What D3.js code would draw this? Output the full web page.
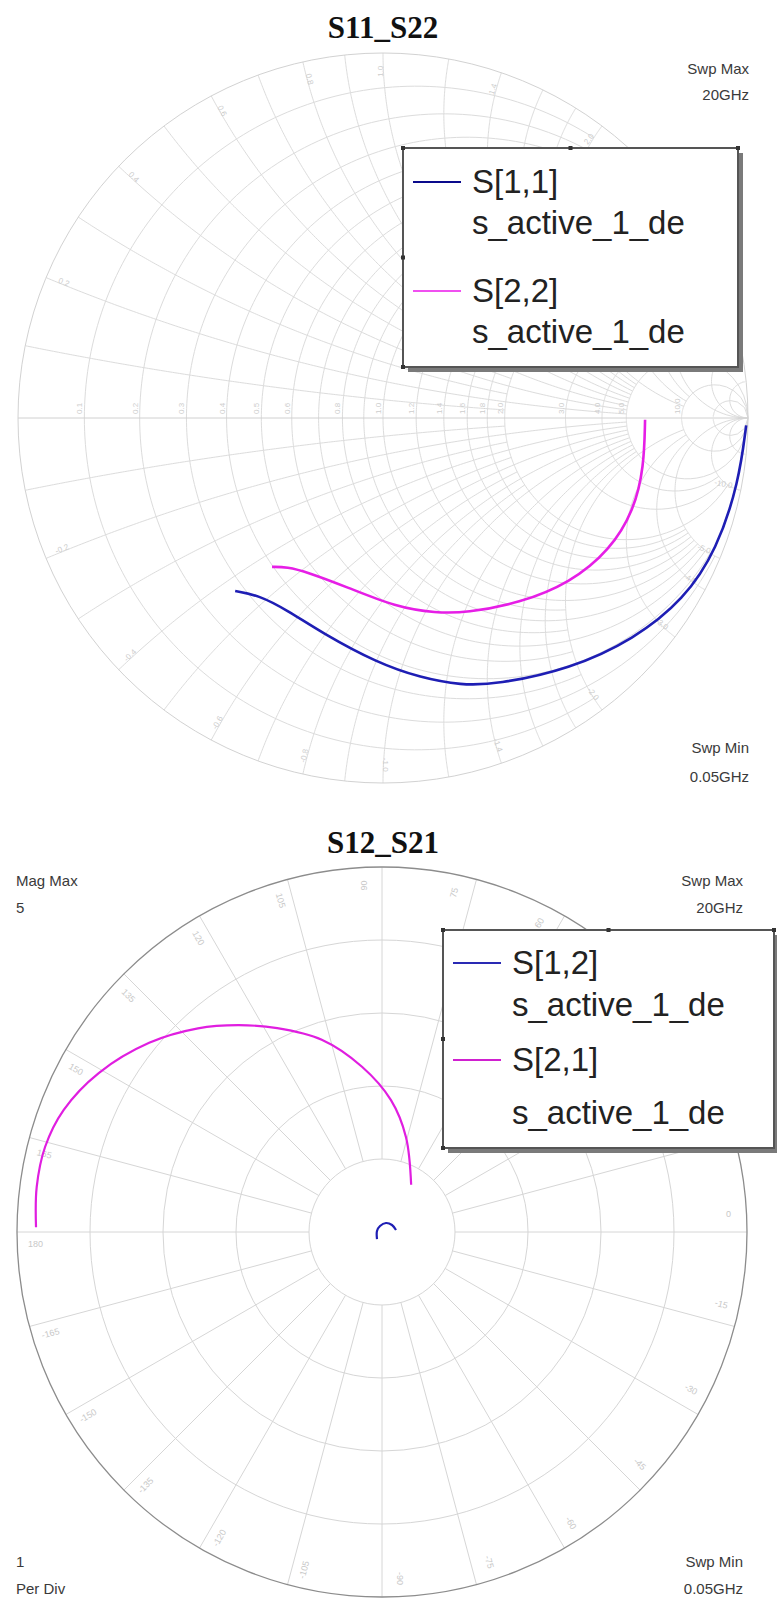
<!DOCTYPE html>
<html>
<head>
<meta charset="utf-8">
<script src="https://cdn.jsdelivr.net/npm/d3@7"></script>
<style>
  body { margin: 0; background: #fff; }
  text { font-family: Arial, "Liberation Sans", sans-serif; }
</style>
</head>
<body>
<div id="chart"></div>
<script>
// data
// S11 / S22 as reflection coefficient (real, imag), low freq first
const s11Re = [0.995, 0.975, 0.915, 0.825, 0.688, 0.512, 0.310, 0.214, 0.104, -0.016, -0.167, -0.263, -0.342, -0.405];
const s11Im = [-0.02, -0.175, -0.360, -0.497, -0.606, -0.688, -0.730, -0.732, -0.712, -0.671, -0.589, -0.526, -0.485, -0.474];
const s22Re = [0.718, 0.715, 0.688, 0.622, 0.512, 0.375, 0.227, 0.145, 0.036, -0.099, -0.208, -0.263, -0.304];
const s22Im = [-0.005, -0.134, -0.252, -0.362, -0.452, -0.507, -0.534, -0.534, -0.518, -0.463, -0.422, -0.408, -0.408];

// S21 / S12 as magnitude and angle (deg)
const s21Mag = [4.74, 4.77, 4.76, 4.67, 4.45, 4.11, 3.76, 3.45, 3.14, 2.76, 2.28, 1.81, 1.34, 0.76];
const s21Ang = [179.2, 172.6, 165.8, 159.0, 150.7, 140.9, 132.1, 124.8, 117.2, 107.4, 96.9, 86.1, 75.8, 58.3];
const s12Mag = [0.118, 0.07, 0.087, 0.135, 0.167, 0.194];
const s12Ang = [-125.5, 168.7, 108.4, 66, 35, 8.1];

// grid values
const rFine = [0.1, 0.3, 0.5, 0.7, 0.9];
const rMid = [0.2, 0.4, 0.6, 0.8, 1.0, 1.2, 1.4, 1.6, 1.8];
const rHigh = [2, 3, 4];
const rTop = [5, 10, 20];
const magTicks = [1, 2, 3, 4, 5];
const angTicks = d3.range(0, 360, 15);

const W = 777, H = 1605;
const svg = d3.select("#chart").append("svg")
    .attr("width", W)
    .attr("height", H);

svg.append("rect").attr("width", W).attr("height", H).attr("fill", "#fff");

// SMITH CHART  S11_S22
//********************************************
const sm = {cx: 383, cy: 418, R: 365};
const gx = d3.scaleLinear().domain([-1, 1]).range([sm.cx - sm.R, sm.cx + sm.R]);
const gy = d3.scaleLinear().domain([-1, 1]).range([sm.cy + sm.R, sm.cy - sm.R]);

function gamma(r, x) {
  const d = (r + 1) * (r + 1) + x * x;
  return [(r * r - 1 + x * x) / d, 2 * x / d];
}

const smithLine = d3.line().x(d => gx(d[0])).y(d => gy(d[1]));
const smith = svg.append("g");

// resistance circles, clipped at |x| <= lim
function rArc(r, lim) {
  const t0 = Math.atan(lim);
  return d3.range(0, 201).map(i => gamma(r, Math.tan(-t0 + 2 * t0 * i / 200)));
}
// reactance arcs, clipped at r <= lim
function xArc(x, lim) {
  const u1 = lim / (1 + lim);
  return d3.range(0, 201).map(i => {
    const u = u1 * i / 200;
    return gamma(u / (1 - u), x);
  });
}

const rSet = [].concat(
  rFine.map(v => [v, 2]), rMid.map(v => [v, 5]),
  rHigh.map(v => [v, 10]), rTop.map(v => [v, 1e5]));
const xSet = [].concat(
  rFine.map(v => [v, 2]), rMid.map(v => [v, 5]),
  rHigh.map(v => [v, 10]), rTop.map(v => [v, 1e5]));

smith.selectAll(".rc")
  .data(rSet)
  .join("path")
    .attr("d", d => smithLine(rArc(d[0], d[1])))
    .attr("fill", "none")
    .attr("stroke", "#dcdcdc")
    .attr("stroke-width", 1);

smith.selectAll(".xc")
  .data(xSet.concat(xSet.map(d => [-d[0], d[1]])))
  .join("path")
    .attr("d", d => smithLine(xArc(d[0], d[1])))
    .attr("fill", "none")
    .attr("stroke", "#dcdcdc")
    .attr("stroke-width", 1);

// outer circle and real axis
smith.append("circle")
  .attr("cx", gx(0)).attr("cy", gy(0))
  .attr("r", gx(1) - gx(0))
  .attr("fill", "none")
  .attr("stroke", "#d2d2d2");
smith.append("line")
  .attr("x1", gx(-1)).attr("x2", gx(1))
  .attr("y1", gy(0)).attr("y2", gy(0))
  .attr("stroke", "#d0d0d0");

// faint grid labels
const rLab = [0.1, 0.2, 0.3, 0.4, 0.5, 0.6, 0.8, 1.0, 1.2, 1.4, 1.6, 1.8, 2, 3, 4, 5, 10];
smith.selectAll(".rl")
  .data(rLab)
  .join("text")
    .attr("transform", d => `translate(${gx(gamma(d, 0)[0]) - 2},${gy(0) - 4}) rotate(-90)`)
    .attr("font-size", 8)
    .attr("fill", "#cdcdcd")
    .text(d => d.toFixed(1));
const xLab = [0.2, 0.4, 0.6, 0.8, 1.0, 1.4, 2, 3, 4, 5, 10];
smith.selectAll(".xl")
  .data(xLab.concat(xLab.map(v => -v)))
  .join("text")
    .attr("transform", d => {
      const g = gamma(0, d);
      const a = Math.atan2(g[1], g[0]) * 180 / Math.PI;
      return `translate(${gx(g[0] * 0.95)},${gy(g[1] * 0.95)}) rotate(${-a + (Math.abs(a) > 90 ? 180 : 0)})`;
    })
    .attr("font-size", 8)
    .attr("fill", "#cdcdcd")
    .attr("text-anchor", "middle")
    .text(d => d.toFixed(1));

// traces
const s11Pts = s11Re.map((v, i) => [v, s11Im[i]]);
const s22Pts = s22Re.map((v, i) => [v, s22Im[i]]);
const traceLine = d3.line().x(d => gx(d[0])).y(d => gy(d[1])).curve(d3.curveBasis);

smith.append("path")
  .attr("d", traceLine(s22Pts))
  .attr("fill", "none")
  .attr("stroke", "#e61ee6")
  .attr("stroke-width", 2.6);
smith.append("path")
  .attr("d", traceLine(s11Pts))
  .attr("fill", "none")
  .attr("stroke", "#1e1eb4")
  .attr("stroke-width", 2.6);

// POLAR CHART  S12_S21
//********************************************
const pl = {cx: 382, cy: 1232, R: 365};
const mag = d3.scaleLinear().domain([0, 5]).range([0, pl.R]);
const polar = svg.append("g").attr("transform", `translate(${pl.cx},${pl.cy})`);

polar.selectAll(".ang")
  .data(angTicks)
  .join("line")
    .attr("x1", d => mag(1) * Math.cos(d * Math.PI / 180))
    .attr("y1", d => -mag(1) * Math.sin(d * Math.PI / 180))
    .attr("x2", d => mag(5) * Math.cos(d * Math.PI / 180))
    .attr("y2", d => -mag(5) * Math.sin(d * Math.PI / 180))
    .attr("stroke", "#d6d6d6");

polar.selectAll(".mag")
  .data(magTicks)
  .join("circle")
    .attr("r", d => mag(d))
    .attr("fill", "none")
    .attr("stroke", d => d == 5 ? "#8c8c8c" : "#d6d6d6")
    .attr("stroke-width", d => d == 5 ? 1.3 : 1);

polar.selectAll(".angl")
  .data(angTicks)
  .join("text")
    .attr("transform", d => {
      const a = (d + 2.5) * Math.PI / 180;
      const rot = d > 90 && d < 270 ? 180 - d : -d;
      return `translate(${mag(4.75) * Math.cos(a)},${-mag(4.75) * Math.sin(a)}) rotate(${rot})`;
    })
    .attr("font-size", 9)
    .attr("fill", "#c8c8c8")
    .attr("text-anchor", "middle")
    .text(d => d > 180 ? d - 360 : d);

const radial = d3.lineRadial()
  .angle(d => (90 - d[1]) * Math.PI / 180)
  .radius(d => mag(d[0]))
  .curve(d3.curveCatmullRom);

polar.append("path")
  .attr("d", radial(s21Mag.map((v, i) => [v, s21Ang[i]])))
  .attr("fill", "none")
  .attr("stroke", "#e01ee0")
  .attr("stroke-width", 2.2);
polar.append("path")
  .attr("d", radial(s12Mag.map((v, i) => [v, s12Ang[i]])))
  .attr("fill", "none")
  .attr("stroke", "#1e1eb4")
  .attr("stroke-width", 2.2);

// TITLES, CORNER NOTES
//********************************************
svg.append("text")
  .attr("x", 383).attr("y", 38)
  .attr("text-anchor", "middle")
  .style("font-family", "'Liberation Serif', 'Times New Roman', serif")
  .attr("font-weight", "bold").attr("font-size", 31)
  .attr("fill", "#111")
  .text("S11_S22");
svg.append("text")
  .attr("x", 383).attr("y", 853)
  .attr("text-anchor", "middle")
  .style("font-family", "'Liberation Serif', 'Times New Roman', serif")
  .attr("font-weight", "bold").attr("font-size", 31)
  .attr("fill", "#111")
  .text("S12_S21");

const notes = [
  {t: "Swp Max", x: 749, y: 74, a: "end"},
  {t: "20GHz", x: 749, y: 100, a: "end"},
  {t: "Swp Min", x: 749, y: 753, a: "end"},
  {t: "0.05GHz", x: 749, y: 782, a: "end"},
  {t: "Mag Max", x: 16, y: 886, a: "start"},
  {t: "5", x: 16, y: 913, a: "start"},
  {t: "Swp Max", x: 743, y: 886, a: "end"},
  {t: "20GHz", x: 743, y: 913, a: "end"},
  {t: "1", x: 16, y: 1567, a: "start"},
  {t: "Per Div", x: 16, y: 1594, a: "start"},
  {t: "Swp Min", x: 743, y: 1567, a: "end"},
  {t: "0.05GHz", x: 743, y: 1594, a: "end"}
];
svg.selectAll(".note")
  .data(notes)
  .join("text")
    .attr("x", d => d.x).attr("y", d => d.y)
    .attr("text-anchor", d => d.a)
    .attr("font-size", 15)
    .attr("fill", "#3a3a3a")
    .text(d => d.t);

// LEGENDS
//********************************************
function legend(box, items) {
  const g = svg.append("g");
  g.append("rect")
    .attr("x", box.x + 5).attr("y", box.y + 5)
    .attr("width", box.w).attr("height", box.h)
    .attr("fill", "#7a7a7a");
  g.append("rect")
    .attr("x", box.x).attr("y", box.y)
    .attr("width", box.w).attr("height", box.h)
    .attr("fill", "#fff")
    .attr("stroke", "#555")
    .attr("stroke-width", 2);
  [[0, 0], [box.w / 2, 0], [box.w, 0], [0, box.h / 2], [0, box.h]].forEach(p => {
    g.append("rect")
      .attr("x", box.x + p[0] - 2).attr("y", box.y + p[1] - 2)
      .attr("width", 4).attr("height", 4)
      .attr("fill", "#333");
  });
  items.forEach(it => {
    g.append("line")
      .attr("x1", box.x + 10).attr("x2", box.x + 58)
      .attr("y1", box.y + it.dy).attr("y2", box.y + it.dy)
      .attr("stroke", it.color).attr("stroke-width", 2);
    g.append("text")
      .attr("x", box.x + 69).attr("y", box.y + it.dy + 11)
      .attr("font-size", 33).attr("fill", "#222")
      .text(it.name);
    g.append("text")
      .attr("x", box.x + 69).attr("y", box.y + it.dy2 + 11)
      .attr("font-size", 33).attr("fill", "#222")
      .text("s_active_1_de");
  });
}

legend({x: 403, y: 148, w: 335, h: 219}, [
  {name: "S[1,1]", color: "#0a0a8c", dy: 34, dy2: 75},
  {name: "S[2,2]", color: "#f050f0", dy: 143, dy2: 184}
]);
legend({x: 443, y: 930, w: 331, h: 218}, [
  {name: "S[1,2]", color: "#2a2ab4", dy: 33, dy2: 75},
  {name: "S[2,1]", color: "#d020d0", dy: 130, dy2: 183}
]);
</script>
</body>
</html>
